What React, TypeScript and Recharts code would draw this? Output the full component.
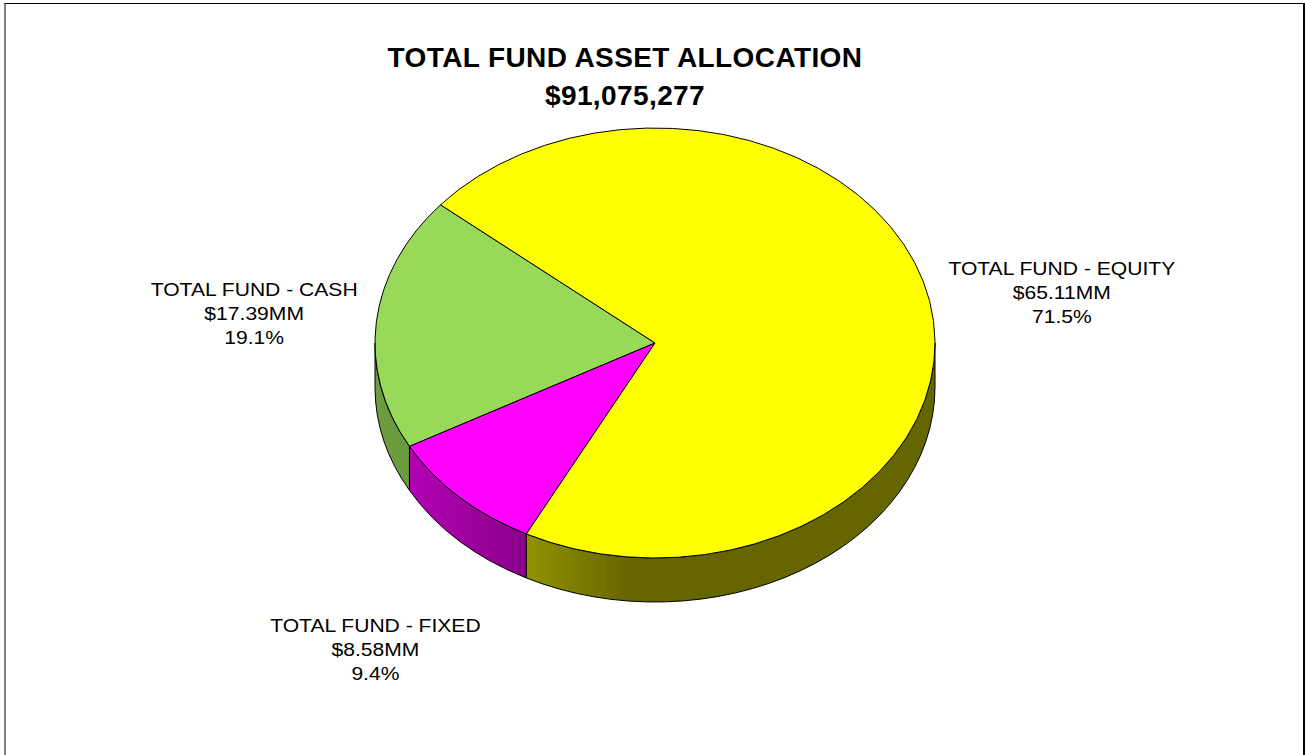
import React from "react";
import { PieChart, Pie, Cell } from "recharts";

const categories = ["TOTAL FUND - CASH", "TOTAL FUND - FIXED", "TOTAL FUND - EQUITY"];
const valuesMM = [17.39, 8.58, 65.11];
const titleLines = ["TOTAL FUND ASSET ALLOCATION", "$91,075,277"];

const data = categories.map((name, i) => ({ name, value: valuesMM[i] }));

const topColors = ["#99d959", "#ff00ff", "#ffff00"];
const sideStops = [
  [["0", "#6d9d40"], ["1", "#699a3c"]],
  [["0", "#b300b3"], ["1", "#8a008a"]],
  [["0", "#929200"], ["0.25", "#666600"], ["1", "#666600"]],
];

const CX = 655;
const CY = 343;
const RX = 280;
const TILT = 215 / 280;
const DEPTH = 44;
const FONT = "Arial, 'Liberation Sans', sans-serif";

const rad = (a: number) => (a * Math.PI) / 180;
const pt = (cx: number, cy: number, rx: number, ry: number, a: number) => [
  cx + rx * Math.cos(rad(a)),
  cy - ry * Math.sin(rad(a)),
];

// elliptical slice with its visible rim (3d look)
function Slice(props: any) {
  const { cx, cy, outerRadius, startAngle, endAngle, index } = props;
  const rx = outerRadius;
  const ry = outerRadius * TILT;
  const s = Math.min(startAngle, endAngle);
  const e = Math.max(startAngle, endAngle);
  const [x0, y0] = pt(cx, cy, rx, ry, s);
  const [x1, y1] = pt(cx, cy, rx, ry, e);
  const large = e - s > 180 ? 1 : 0;
  const top = `M${cx},${cy} L${x0},${y0} A${rx},${ry} 0 ${large} 0 ${x1},${y1} Z`;

  const sides: string[] = [];
  [[180, 360], [540, 720]].forEach(([lo, hi]) => {
    const a0 = Math.max(s, lo);
    const a1 = Math.min(e, hi);
    if (a1 - a0 > 0.01) {
      const [p0x, p0y] = pt(cx, cy, rx, ry, a0);
      const [p1x, p1y] = pt(cx, cy, rx, ry, a1);
      sides.push(
        `M${p0x},${p0y} A${rx},${ry} 0 0 0 ${p1x},${p1y} L${p1x},${p1y + DEPTH} A${rx},${ry} 0 0 1 ${p0x},${p0y + DEPTH} Z`
      );
    }
  });

  const gid = `side-grad-${index}`;
  return (
    <g>
      <defs>
        <linearGradient id={gid} x1="0" x2="1" y1="0" y2="0">
          {sideStops[index].map(([o, c]) => (
            <stop key={o} offset={o} stopColor={c} />
          ))}
        </linearGradient>
      </defs>
      {sides.map((d, i) => (
        <path key={i} d={d} fill={`url(#${gid})`} stroke="#000" strokeWidth={1} />
      ))}
      <path d={top} fill={topColors[index]} stroke="#000" strokeWidth={1} />
    </g>
  );
}

function renderLabel(props: any) {
  const { cx, cy, outerRadius, midAngle, percent, index } = props;
  const rx = outerRadius;
  const ry = outerRadius * TILT;
  const c = Math.cos(rad(midAngle));
  const s = Math.sin(rad(midAngle));
  const x = cx + 6 + rx * 1.46 * c;
  const y = s < 0 ? cy - ry * 1.75 * s + DEPTH : cy - ry * s - 2;
  const lines = [
    categories[index],
    `$${valuesMM[index].toFixed(2)}MM`,
    `${(percent * 100).toFixed(1)}%`,
  ];
  return (
    <text
      key={`lbl-${index}`}
      x={x}
      y={y - 24}
      textAnchor="middle"
      fontFamily={FONT}
      fontSize={18.5}
      fill="#000"
      transform={`translate(${x},0) scale(1.14,1) translate(${-x},0)`}
    >
      {lines.map((t, i) => (
        <tspan key={i} x={x} dy={i === 0 ? 0 : 24}>
          {t}
        </tspan>
      ))}
    </text>
  );
}

export default function App() {
  return (
    <div style={{ position: "absolute", left: 0, top: 0, width: 1305, height: 755, background: "#fff", overflow: "hidden" }}>
      <div
        style={{
          position: "absolute",
          left: 4,
          top: 3,
          width: 1297,
          height: 800,
          borderLeft: "2px solid #808080",
          borderTop: "1px solid #000",
          borderRight: "2px solid #000",
        }}
      />
      <div
        style={{
          position: "absolute",
          left: 0,
          top: 39,
          width: 1250,
          textAlign: "center",
          fontFamily: FONT,
          fontWeight: "bold",
          fontSize: 28,
          letterSpacing: "0.4px",
          lineHeight: "38px",
          color: "#000",
        }}
      >
        {titleLines.map((t) => (
          <div key={t}>{t}</div>
        ))}
      </div>
      <div style={{ position: "absolute", left: 0, top: 0 }}>
        <PieChart width={1305} height={755} margin={{ top: 0, right: 0, bottom: 0, left: 0 }}>
          <Pie
            data={data}
            dataKey="value"
            nameKey="name"
            cx={CX}
            cy={CY}
            innerRadius={0}
            outerRadius={RX}
            startAngle={140}
            endAngle={500}
            stroke="#000"
            shape={Slice}
            label={renderLabel}
            labelLine={false}
            isAnimationActive={false}
          >
            {data.map((d, i) => (
              <Cell key={d.name} fill={topColors[i]} />
            ))}
          </Pie>
        </PieChart>
      </div>
    </div>
  );
}
